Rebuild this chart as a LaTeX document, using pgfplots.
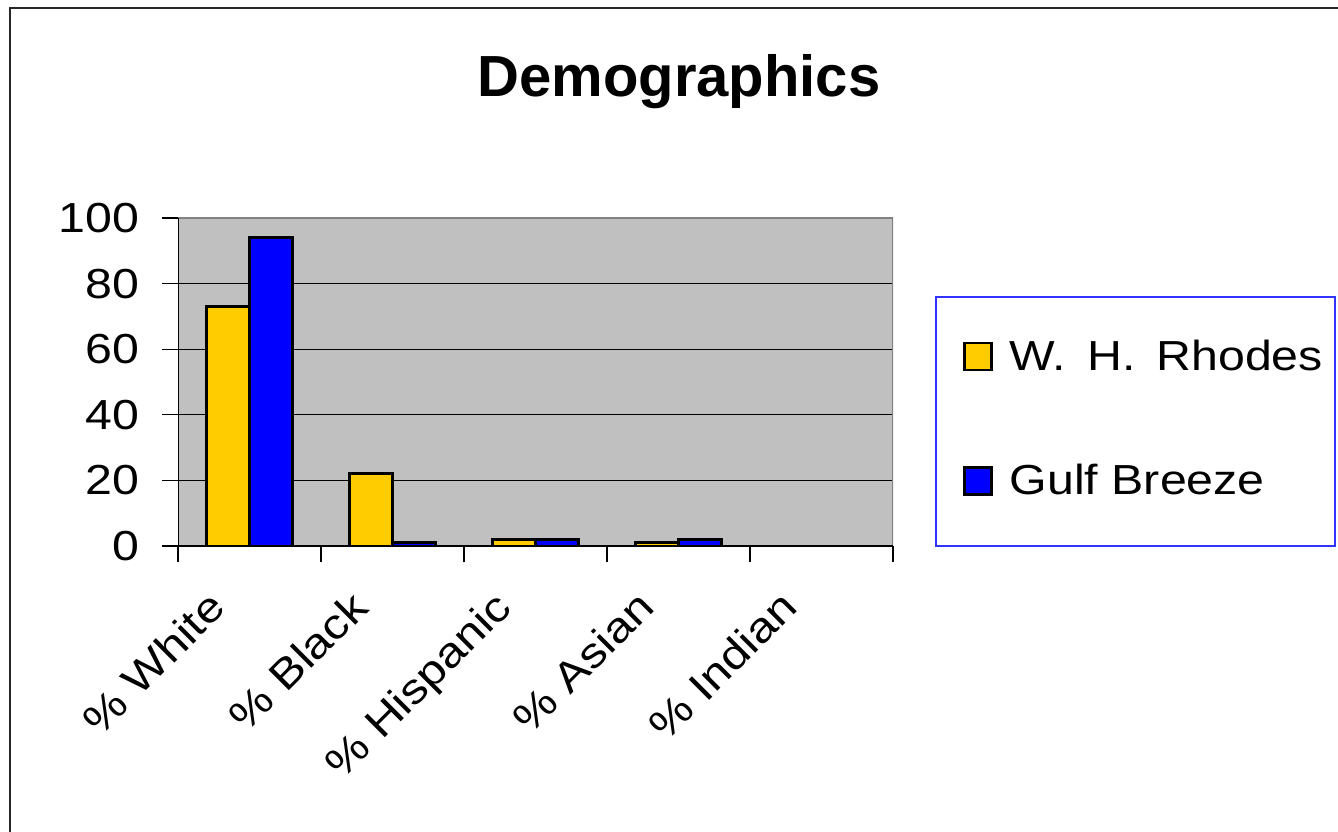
\documentclass[border=0pt]{standalone}
\usepackage{fontspec}
\setmainfont{Liberation Sans}
\newfontfamily\wide[FakeStretch=1.15]{Liberation Sans}
\usepackage{pgfplots}
\pgfplotsset{compat=1.18}
\definecolor{barY}{HTML}{FFCC00}
\definecolor{barB}{HTML}{0000FF}
\definecolor{plotbg}{HTML}{C0C0C0}
\definecolor{frameG}{HTML}{808080}
\begin{document}
\begin{tikzpicture}
\useasboundingbox[fill=white] (0pt,0pt) rectangle (669pt,415.5pt);
\draw[line width=1pt, draw=black!85] (4.75pt,-2pt) -- (4.75pt,411.25pt) -- (672pt,411.25pt);
\node[font=\fontsize{29}{34}\selectfont\bfseries, anchor=base] at (339.5pt,367pt) {Demographics};
\draw[barB!80, line width=0.6pt] (468pt,142.5pt) rectangle (667.5pt,267pt);
\begin{axis}[
  at={(89pt,142.5pt)}, anchor=south west,
  scale only axis, width=357.5pt, height=164pt,
  xmin=-0.5, xmax=4.5, ymin=0, ymax=100,
  axis background/.style={fill=plotbg},
  axis line style={draw=none},
  xtick={0,1,2,3,4},
  xticklabels={\% White,\% Black,\% Hispanic,\% Asian,\% Indian},
  minor xtick={-0.5,0.5,1.5,2.5,3.5,4.5},
  ytick={0,20,40,60,80,100},
  tick align=outside, tick pos=left,
  major tick length=8pt, minor tick length=8pt,
  x tick style={draw=none},
  minor x tick style={draw=black, line width=0.6pt},
  y tick style={draw=black, line width=0.6pt},
  ymajorgrids, major grid style={black, line width=0.6pt},
  xticklabel style={font=\wide\fontsize{21}{25}\selectfont, rotate=45, anchor=north east, xshift=-21.3pt, yshift=9.7pt},
  yticklabel style={font=\wide\fontsize{21}{25}\selectfont, xshift=-8pt},
  /pgf/number format/assume math mode=true,
  ybar, bar width=21.5pt,
  legend style={at={(axis description cs:1.0979,0.642)}, anchor=north west,
    draw=none, fill=none, font=\wide\fontsize{21}{25}\selectfont,
    inner sep=0pt, row sep=41.5pt, column sep=6.5pt},
  legend cell align=left,
  legend image code/.code={\draw[#1, line width=1.2pt, draw=black] (0pt,-6.75pt) rectangle (13.5pt,6.75pt);},
]
\addplot[fill=barY, draw=black, line width=1.5pt, bar shift=-10.75pt] coordinates {(0,73) (1,22) (2,2) (3,1) (4,0)};
\addlegendentry{W.\hspace{0.5em}H.\hspace{0.5em}Rhodes}
\addplot[fill=barB, draw=black, line width=1.5pt, bar shift=10.75pt] coordinates {(0,94) (1,1) (2,2) (3,2) (4,0)};
\addlegendentry{Gulf Breeze}
\draw[frameG, line width=1.5pt] (rel axis cs:0,1) -- (rel axis cs:1,1) -- (rel axis cs:1,0);
\draw[black, line width=0.8pt] (rel axis cs:0,1) -- (rel axis cs:0,0) -- (rel axis cs:1,0);
\end{axis}
\end{tikzpicture}
\end{document}
